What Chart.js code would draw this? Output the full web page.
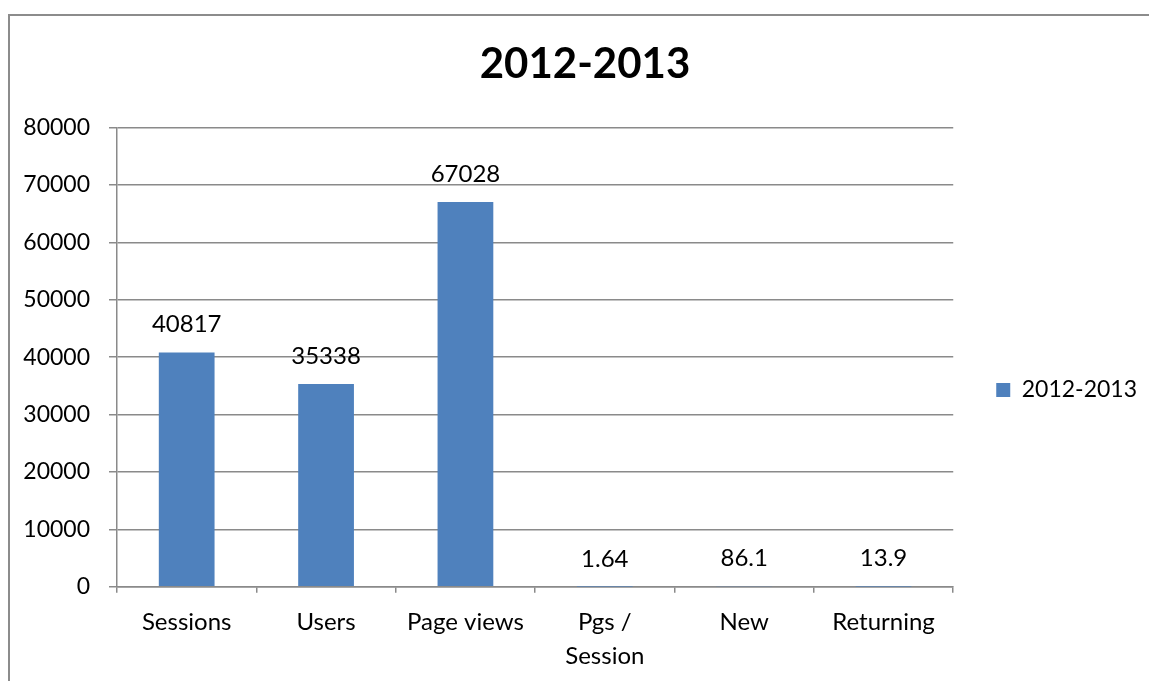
<!DOCTYPE html>
<html>
<head>
<meta charset="utf-8">
<script src="https://cdn.jsdelivr.net/npm/chart.js@4.4.0/dist/chart.umd.min.js"></script>
<style>
  html, body { margin: 0; padding: 0; background: #fff; overflow: hidden; }
  #frame { position: absolute; left: 8px; top: 14px; width: 1300px; height: 800px; border: 2px solid #8c8c8c; }
  #chart { position: absolute; left: 10px; top: 16px; }
</style>
</head>
<body>
<div id="frame"></div>
<canvas id="chart" width="1150" height="748"></canvas>
<script>
var categories = ['Sessions', 'Users', 'Page views', ['Pgs /', 'Session'], 'New', 'Returning'];
var values = [40817, 35338, 67028, 1.64, 86.1, 13.9];
var seriesName = '2012-2013';
var yTicks = [0, 10000, 20000, 30000, 40000, 50000, 60000, 70000, 80000];

Chart.defaults.font.family = 'Lato';
Chart.defaults.font.size = 24;
Chart.defaults.font.lineHeight = 1.42;
Chart.defaults.color = '#000';

// value labels above each bar
var valueLabels = {
     id: 'valueLabels',
     afterDatasetsDraw: function(chart) {
          var ctx = chart.ctx;
          var meta = chart.getDatasetMeta(0);
          ctx.save();
          ctx.font = '24px Lato';
          ctx.fillStyle = '#000';
          ctx.textAlign = 'center';
          ctx.textBaseline = 'middle';
          meta.data.forEach(function(bar, i) {
               ctx.fillText(String(values[i]), bar.x, bar.y - 28);
          });
          ctx.restore();
     }
};

new Chart(document.getElementById('chart'), {
     type: 'bar',
     data: {
          labels: categories,
          datasets: [
               {
                    label: seriesName,
                    data: values,
                    backgroundColor: '#4F81BD',
                    borderWidth: 0,
                    barPercentage: 0.4,
                    categoryPercentage: 1
               }
          ]
     },
     options: {
          responsive: false,
          animation: false,
          layout: { padding: { left: 13, right: 13, top: 0, bottom: 0 } },
          plugins: {
               title: {
                    display: true,
                    text: seriesName,
                    font: { size: 42, weight: 'bold', lineHeight: 1.2 },
                    padding: { top: 23, bottom: 38 },
                    color: '#000'
               },
               legend: {
                    display: true,
                    position: 'right',
                    labels: { boxWidth: 14, boxHeight: 14, padding: 43, font: { size: 23 } }
               },
               tooltip: { enabled: false }
          },
          scales: {
               y: {
                    min: 0,
                    max: 80000,
                    afterBuildTicks: function(axis) {
                         axis.ticks = yTicks.map(function(v) { return { value: v }; });
                    },
                    afterFit: function(axis) { axis.width = 94; },
                    grid: { color: '#8a8a8a', lineWidth: 1.5, tickLength: 8 },
                    border: { color: '#8a8a8a', width: 1.5 },
                    ticks: { padding: 19, font: { size: 23 }, callback: function(v) { return String(v); } }
               },
               x: {
                    afterFit: function(axis) { axis.height += 79; },
                    grid: { offset: true, drawOnChartArea: false, color: '#8a8a8a', lineWidth: 1.5, tickLength: 6 },
                    border: { color: '#8a8a8a', width: 1.5 },
                    ticks: { padding: 12, maxRotation: 0 }
               }
          }
     },
     plugins: [valueLabels]
});
</script>
</body>
</html>
